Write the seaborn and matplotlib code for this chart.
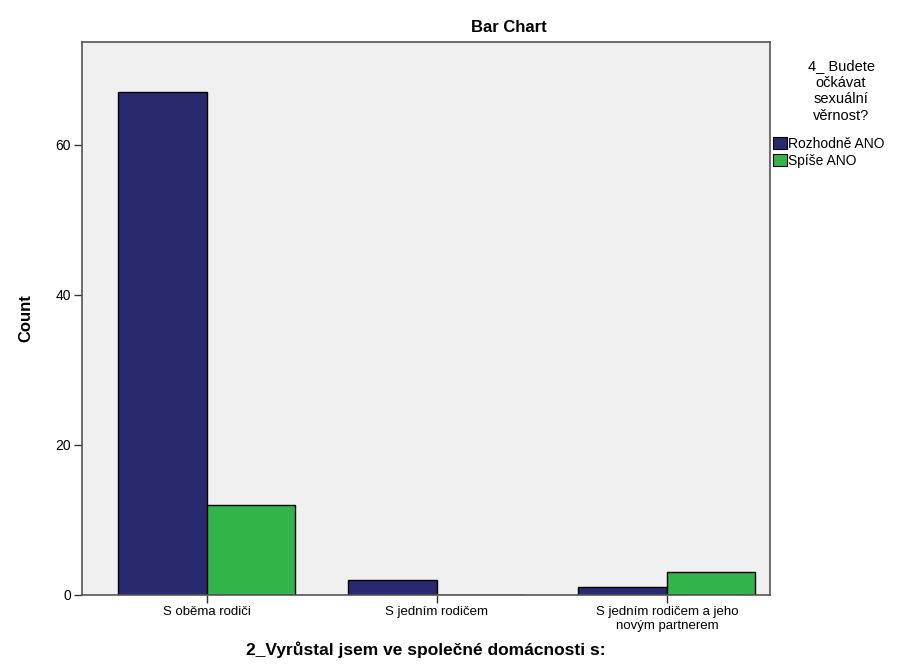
import pandas as pd
import seaborn as sns
import matplotlib.pyplot as plt
import matplotlib.patches as mpatches

# data
categories = ["S oběma rodiči", "S jedním rodičem", "S jedním rodičem a jeho\nnovým partnerem"]
answers = ["Rozhodně ANO", "Spíše ANO"]
counts_rozhodne = [67, 2, 1]
counts_spise = [12, 0, 3]
colors = ["#29296f", "#33b44a"]

df = pd.DataFrame({
    "cat": categories * 2,
    "answer": [answers[0]] * 3 + [answers[1]] * 3,
    "count": counts_rozhodne + counts_spise,
})

sns.set_style("white")
plt.rcParams["font.family"] = ["Liberation Sans", "DejaVu Sans"]
plt.rcParams["text.color"] = "black"
plt.rcParams["axes.labelcolor"] = "black"
plt.rcParams["xtick.color"] = "black"
plt.rcParams["ytick.color"] = "black"

fig = plt.figure(figsize=(9.22, 6.72), dpi=100)
ax = fig.add_axes([0.0889, 0.1146, 0.7462, 0.8229])
ax.set_facecolor("#f0f0f0")

sns.barplot(data=df, x="cat", y="count", hue="answer", hue_order=answers,
            palette=colors, width=0.77, edgecolor="black", linewidth=1,
            saturation=1, ax=ax, legend=False)

ax.set_xlim(-0.543, 2.448)
ax.set_ylim(0, 73.7)
ax.set_yticks([0, 20, 40, 60])
for s in ax.spines.values():
    s.set_color("#555555")
    s.set_linewidth(1.2)
ax.tick_params(axis="both", direction="out", length=6, width=1, color="#333333",
               labelsize=9.5, bottom=True, left=True, pad=2)
ax.tick_params(axis="y", labelsize=10)
ax.set_xlabel("2_Vyrůstal jsem ve společné domácnosti s:", fontsize=12.5,
              fontweight="bold")
ax.xaxis.set_label_coords(0.5, -0.084)
ax.set_ylabel("Count", fontsize=12, fontweight="bold", labelpad=16)

fig.text(509 / 922, 1 - 28 / 672, "Bar Chart", ha="center", va="center",
         fontsize=12, fontweight="bold")

fig.text(841 / 922, 1 - 91 / 672, "4_ Budete\nočkávat\nsexuální\nvěrnost?",
         ha="center", va="center", fontsize=10.5, linespacing=1.25)

handles = [mpatches.Patch(facecolor=c, edgecolor="black", linewidth=0.8) for c in colors]
fig.legend(handles, answers, loc="upper left", bbox_to_anchor=(773 / 922, 1 - 137 / 672),
           frameon=False, fontsize=10, handlelength=1.0, handleheight=1.0,
           handletextpad=0.1, labelspacing=0.2, borderaxespad=0, borderpad=0)

fig.savefig("out.png", dpi=100)
